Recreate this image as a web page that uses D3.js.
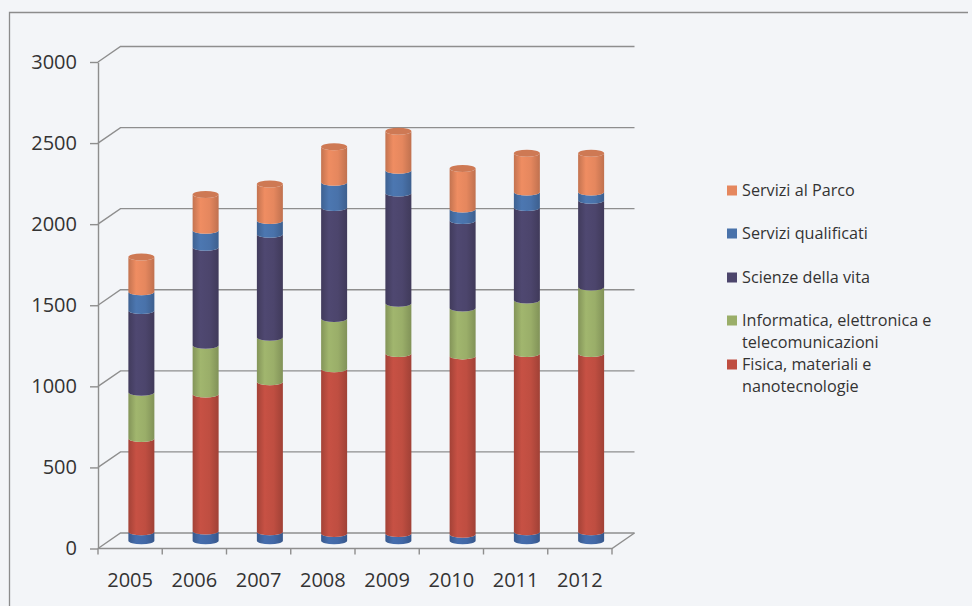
<!DOCTYPE html>
<html>
<head>
<meta charset="utf-8">
<script src="https://cdn.jsdelivr.net/npm/d3@7/dist/d3.min.js"></script>
<style>
  html, body { margin: 0; padding: 0; background: #f3f5f8; }
  svg { display: block; }
  text { font-family: "Open Sans", "Noto Sans", sans-serif; fill: #333333; }
</style>
</head>
<body>
<svg id="chart" width="972" height="606"></svg>
<script>
// Addetti per settore, 2005-2012
const years = ["2005", "2006", "2007", "2008", "2009", "2010", "2011", "2012"];
const altro        = [55, 60, 55, 45, 45, 40, 55, 55];
const fisica       = [575, 845, 925, 1015, 1110, 1100, 1100, 1100];
const informatica  = [285, 300, 275, 310, 310, 295, 330, 410];
const scienze      = [505, 605, 635, 685, 680, 540, 570, 535];
const qualificati  = [115, 105, 85, 155, 140, 70, 95, 50];
const parco        = [215, 220, 225, 220, 240, 250, 240, 240];
const yTicks = [0, 500, 1000, 1500, 2000, 2500, 3000];

// stacking order, bottom to top
const series = [
  { key: "altro",       name: "",                                                values: altro,       color: "#4268a6", legend: false },
  { key: "fisica",      name: ["Fisica, materiali e", "nanotecnologie"],         values: fisica,      color: "#bf4e41", legend: true },
  { key: "informatica", name: ["Informatica, elettronica e", "telecomunicazioni"], values: informatica, color: "#9aae69", legend: true },
  { key: "scienze",     name: ["Scienze della vita"],                            values: scienze,     color: "#4c456c", legend: true },
  { key: "qualificati", name: ["Servizi qualificati"],                           values: qualificati, color: "#4972aa", legend: true },
  { key: "parco",       name: ["Servizi al Parco"],                              values: parco,       color: "#e5875e", legend: true }
];

const svg = d3.select("#chart");

// page frame
svg.append("rect").attr("width", 972).attr("height", 606).attr("fill", "#f3f5f8");
svg.append("path")
  .attr("d", "M9.5,606 L9.5,12.5 L968,12.5")
  .attr("fill", "none").attr("stroke", "#8c8c8c").attr("stroke-width", 1.3);

// 3D projection: front plane scales plus a depth offset
const x = d3.scaleBand().domain(years).range([98, 612]);
const y = d3.scaleLinear().domain([0, 3000]).range([548.5, 62]);
const dx = 22.5, dy = -15.5;
const gridColor = "#8e8e8e";

const grid = svg.append("g").attr("fill", "none").attr("stroke", gridColor).attr("stroke-width", 1.4);
yTicks.forEach(v => {
  grid.append("path")
    .attr("d", `M${x.range()[0]},${y(v)} L${x.range()[0] + dx},${y(v) + dy} L${x.range()[1] + dx},${y(v) + dy}`);
});
// floor front edge and right side
grid.append("path")
  .attr("d", `M${x.range()[0]},${y(0)} L${x.range()[1]},${y(0)} L${x.range()[1] + dx},${y(0) + dy}`);

// value axis
const yAxis = svg.append("g")
  .attr("transform", `translate(${x.range()[0]},0)`)
  .call(d3.axisLeft(y).tickValues(yTicks).tickFormat(d3.format("d"))
        .tickSize(8).tickPadding(13).tickSizeOuter(0));
yAxis.select(".domain").attr("stroke", gridColor).attr("stroke-width", 1.4);
yAxis.selectAll(".tick line").attr("stroke", gridColor).attr("stroke-width", 1.4);
yAxis.selectAll(".tick text").attr("font-size", 20).attr("fill", "#333333")
  .style("font-family", "'Open Sans', sans-serif");

// category axis: ticks on band boundaries, labels centred
const xAxis = svg.append("g")
  .attr("transform", `translate(0,${y(0)})`)
  .call(d3.axisBottom(x).tickSize(0).tickPadding(24));
xAxis.select(".domain").remove();
xAxis.selectAll(".tick text").attr("font-size", 20).attr("fill", "#333333")
  .style("font-family", "'Open Sans', sans-serif");
d3.range(years.length + 1).forEach(i => {
  const xx = x.range()[0] + i * x.step();
  svg.append("line")
    .attr("x1", xx).attr("x2", xx).attr("y1", y(0)).attr("y2", y(0) + 6)
    .attr("stroke", gridColor).attr("stroke-width", 1.4);
});

// cylinder shading
const defs = svg.append("defs");
series.forEach(s => {
  const c = d3.color(s.color);
  const g = defs.append("linearGradient").attr("id", "g-" + s.key)
    .attr("x1", "0%").attr("x2", "100%").attr("y1", "0%").attr("y2", "0%");
  g.append("stop").attr("offset", "0%").attr("stop-color", c.darker(0.45));
  g.append("stop").attr("offset", "30%").attr("stop-color", c.brighter(0.12));
  g.append("stop").attr("offset", "65%").attr("stop-color", c);
  g.append("stop").attr("offset", "100%").attr("stop-color", c.darker(0.5));
});

// stacked data
const rows = years.map((yr, i) => {
  const r = { year: yr };
  series.forEach(s => { r[s.key] = s.values[i]; });
  return r;
});
const stacked = d3.stack().keys(series.map(s => s.key))(rows);

const rx = 13, ry = 3.5;
const yMid = v => y(v) + dy / 2;
const cxOf = yr => x(yr) + x.bandwidth() / 2 + dx / 2;

function segment(cx, ya, yb) {
  return `M${cx - rx},${yb} L${cx - rx},${ya} A${rx},${ry} 0 0 0 ${cx + rx},${ya}` +
         ` L${cx + rx},${yb} A${rx},${ry} 0 0 1 ${cx - rx},${yb} Z`;
}

const bars = svg.append("g");
stacked.forEach((layer, li) => {
  const s = series[li];
  bars.selectAll(null).data(layer).enter().append("path")
    .attr("d", d => segment(cxOf(d.data.year), yMid(d[0]), yMid(d[1])))
    .attr("fill", `url(#g-${s.key})`);
});
// top caps
const topLayer = stacked[stacked.length - 1];
bars.selectAll(null).data(topLayer).enter().append("ellipse")
  .attr("cx", d => cxOf(d.data.year))
  .attr("cy", d => yMid(d[1]))
  .attr("rx", rx).attr("ry", ry)
  .attr("fill", d3.color(series[series.length - 1].color).darker(0.3));

// legend, top entry = top of stack
const legendItems = series.filter(s => s.legend).slice().reverse();
const legendBaselines = [196, 239, 283, 326, 370];
const legend = svg.append("g");
legendItems.forEach((s, i) => {
  const by = legendBaselines[i];
  legend.append("rect")
    .attr("x", 727).attr("y", by - 10.5).attr("width", 10).attr("height", 10)
    .attr("fill", s.color);
  s.name.forEach((line, j) => {
    legend.append("text")
      .attr("x", 742).attr("y", by + j * 22)
      .attr("font-size", 16.2)
      .text(line);
  });
});
</script>
</body>
</html>
